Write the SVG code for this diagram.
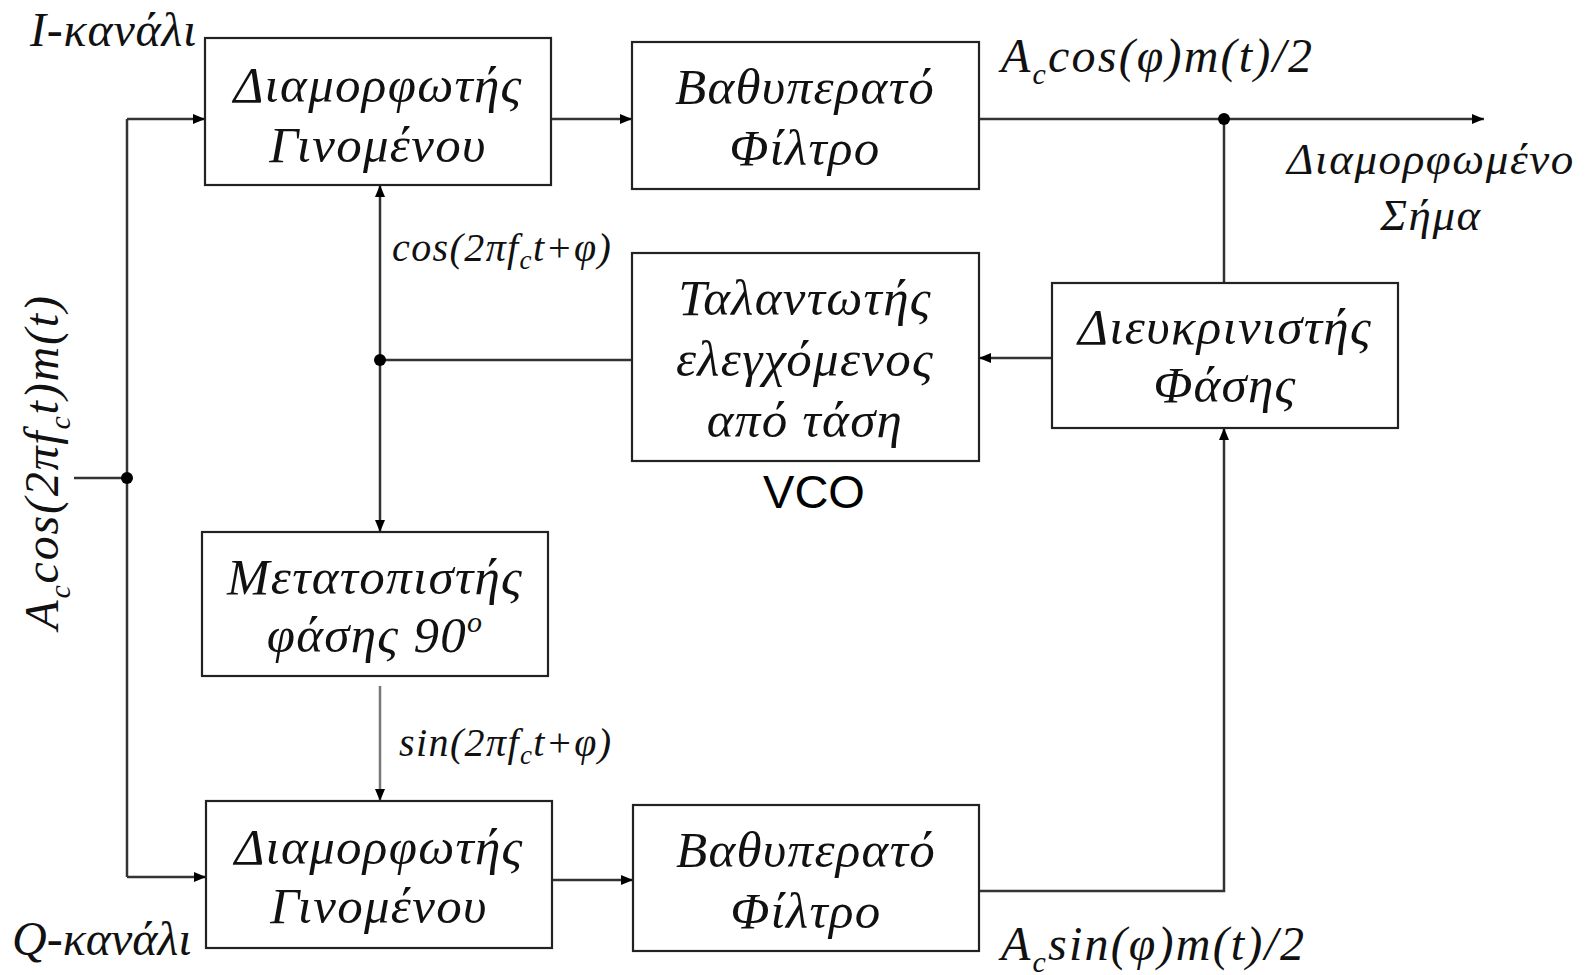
<svg xmlns="http://www.w3.org/2000/svg" width="1585" height="975" viewBox="0 0 1585 975">
<style>
.box{fill:#fff;stroke:#222;stroke-width:2.2}
.t{font-family:"Liberation Serif","Times New Roman",serif;font-style:italic;fill:#111}
.bt{font-size:51px;text-anchor:middle;letter-spacing:1.3px}
.lbl{font-size:48px}
.sm{font-size:40px;letter-spacing:1.4px}
.sans{font-family:"Liberation Sans",Arial,sans-serif;font-size:47px;fill:#000;text-anchor:middle}
.c{fill:none;stroke:#333;stroke-width:2.5}
.g{stroke:#777}
.dot{fill:#000}
</style>
<defs>
<marker id="ah" viewBox="0 0 12 10" refX="12" refY="5" markerWidth="12" markerHeight="10" markerUnits="userSpaceOnUse" orient="auto">
<path d="M0,0 L12,5 L0,10 z" fill="#000"/>
</marker>
</defs>
<g id="connectors">
<path class="c" d="M74 478 H127"/>
<path class="c" d="M127 119 V877"/>
<path class="c" d="M127 119 H205" marker-end="url(#ah)"/>
<path class="c" d="M127 877 H206" marker-end="url(#ah)"/>
<path class="c" d="M551 119 H632" marker-end="url(#ah)"/>
<path class="c" d="M979 119 H1484" marker-end="url(#ah)"/>
<path class="c" d="M1224 283 V119"/>
<path class="c" d="M1052 358 H979" marker-end="url(#ah)"/>
<path class="c" d="M632 360 H380"/>
<path class="c" d="M380 360 V185" marker-end="url(#ah)"/>
<path class="c" d="M380 360 V532" marker-end="url(#ah)"/>
<path class="c g" d="M380 686 V801" marker-end="url(#ah)"/>
<path class="c" d="M552 880 H633" marker-end="url(#ah)"/>
<path class="c" d="M979 891 H1224 V428" marker-end="url(#ah)"/>
<circle class="dot" cx="127" cy="478" r="6"/>
<circle class="dot" cx="1224" cy="119" r="6"/>
<circle class="dot" cx="380" cy="360" r="6"/>
</g>
<g id="mod-i">
<rect class="box" x="205" y="38" width="346" height="147"/>
<text class="t bt" x="378" y="102">Διαμορφωτής</text>
<text class="t bt" x="378" y="162">Γινομένου</text>
</g>
<g id="lpf-i">
<rect class="box" x="632" y="42" width="347" height="147"/>
<text class="t bt" x="805" y="104">Βαθυπερατό</text>
<text class="t bt" x="805" y="165">Φίλτρο</text>
</g>
<g id="vco">
<rect class="box" x="632" y="253" width="347" height="208"/>
<text class="t bt" x="805" y="315">Ταλαντωτής</text>
<text class="t bt" x="805" y="376">ελεγχόμενος</text>
<text class="t bt" x="805" y="437">από τάση</text>
<text class="sans" x="814" y="508">VCO</text>
</g>
<g id="phase-detector">
<rect class="box" x="1052" y="283" width="346" height="145"/>
<text class="t bt" x="1225" y="344">Διευκρινιστής</text>
<text class="t bt" x="1225" y="402">Φάσης</text>
</g>
<g id="phase-shifter">
<rect class="box" x="202" y="532" width="346" height="144"/>
<text class="t bt" x="375" y="594">Μετατοπιστής</text>
<text class="t bt" x="375" y="652">φάσης 90<tspan font-size="30" dy="-20">ο</tspan></text>
</g>
<g id="mod-q">
<rect class="box" x="206" y="801" width="346" height="147"/>
<text class="t bt" x="379" y="864">Διαμορφωτής</text>
<text class="t bt" x="379" y="923">Γινομένου</text>
</g>
<g id="lpf-q">
<rect class="box" x="633" y="805" width="346" height="146"/>
<text class="t bt" x="806" y="867">Βαθυπερατό</text>
<text class="t bt" x="806" y="928">Φίλτρο</text>
</g>
<g id="labels">
<text class="t lbl" x="30" y="46" letter-spacing="0.8">I-κανάλι</text>
<text class="t lbl" x="12" y="955">Q-κανάλι</text>
<text class="t lbl" x="1001" y="72" letter-spacing="2.2">A<tspan font-size="30" dy="12">c</tspan><tspan dy="-12">cos(φ)m(t)/2</tspan></text>
<text class="t lbl" x="1001" y="960" letter-spacing="2.2">A<tspan font-size="30" dy="12">c</tspan><tspan dy="-12">sin(φ)m(t)/2</tspan></text>
<text class="t" x="1431" y="174" text-anchor="middle" font-size="45" letter-spacing="1.6">Διαμορφωμένο</text>
<text class="t" x="1431" y="230" text-anchor="middle" font-size="45" letter-spacing="1.6">Σήμα</text>
<text class="t sm" x="392" y="261">cos(2πf<tspan font-size="27" dy="8">c</tspan><tspan dy="-8">t+φ)</tspan></text>
<text class="t sm" x="399" y="756">sin(2πf<tspan font-size="27" dy="8">c</tspan><tspan dy="-8">t+φ)</tspan></text>
<text class="t lbl" transform="translate(58 462) rotate(-90)" text-anchor="middle" letter-spacing="1.8">A<tspan font-size="30" dy="12">c</tspan><tspan dy="-12">cos(2πf</tspan><tspan font-size="30" dy="12">c</tspan><tspan dy="-12">t)m(t)</tspan></text>
</g>
</svg>
